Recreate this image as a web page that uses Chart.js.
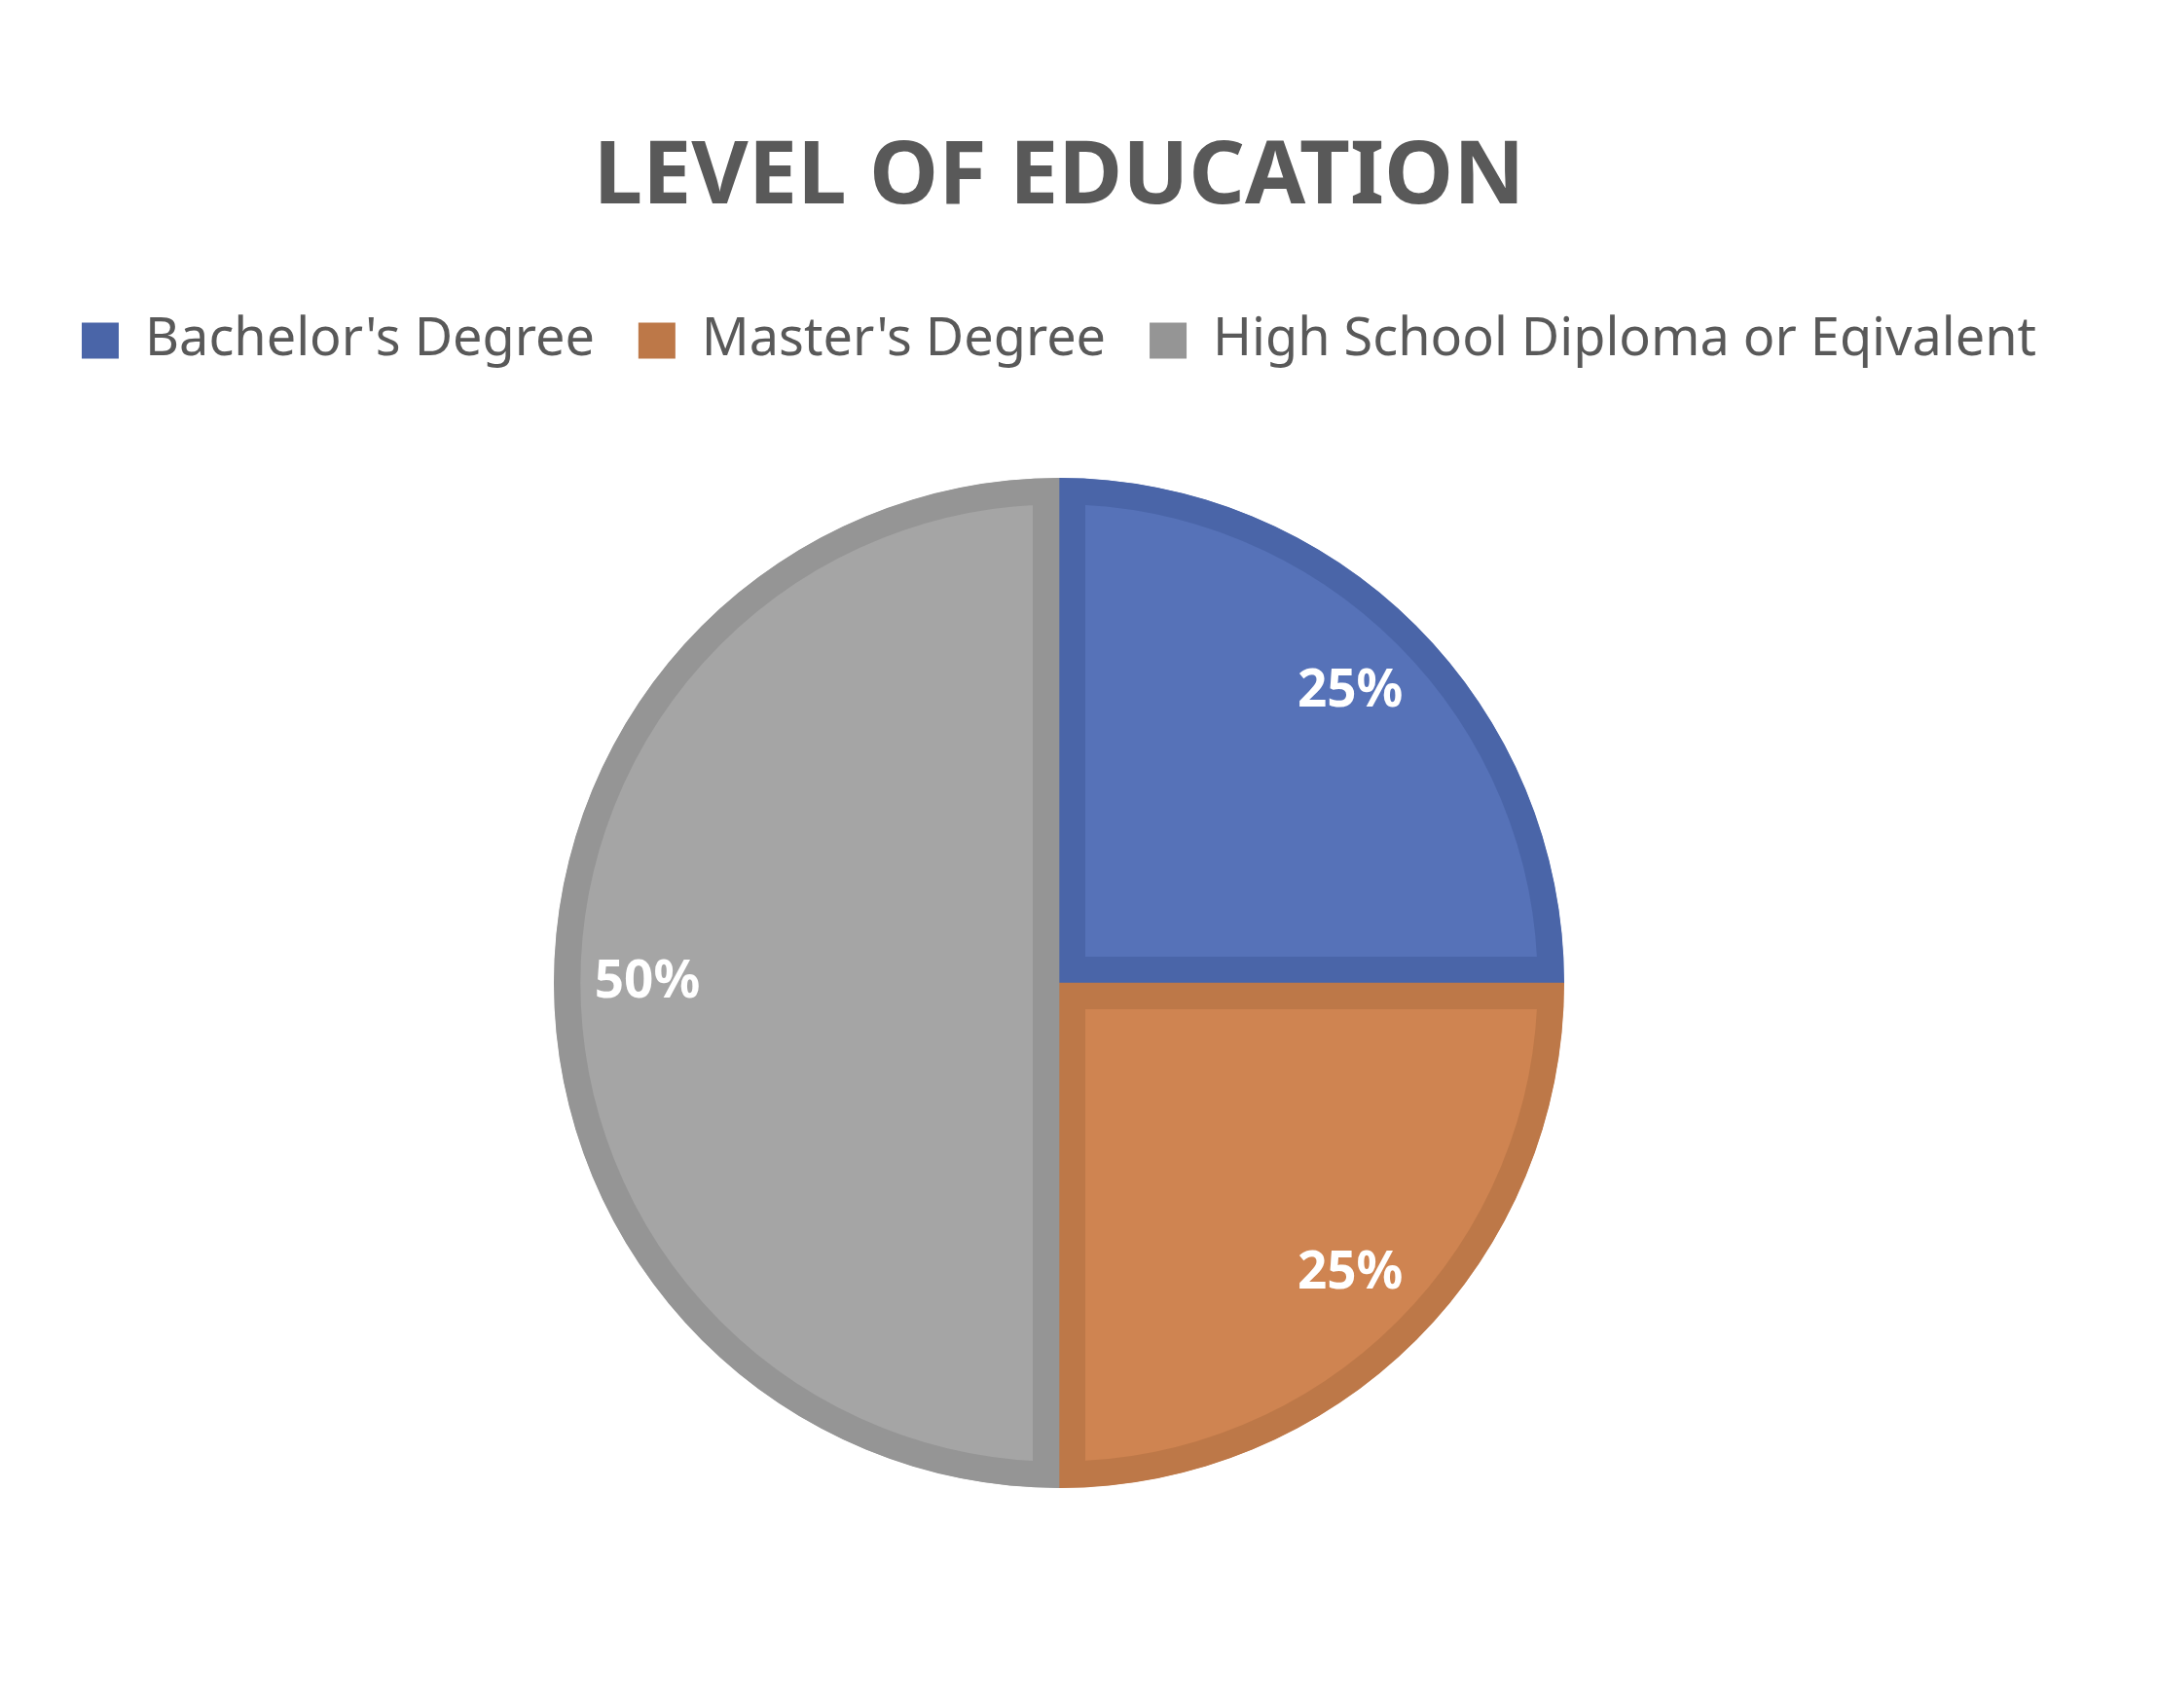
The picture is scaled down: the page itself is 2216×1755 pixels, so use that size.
<!DOCTYPE html>
<html>
<head>
<meta charset="utf-8">
<script src="https://cdn.jsdelivr.net/npm/chart.js@4.4.1/dist/chart.umd.min.js"></script>
<style>
  html, body { margin: 0; padding: 0; background: #ffffff; }
  #wrap { width: 2216px; height: 1755px; }
</style>
</head>
<body>
<div id="wrap"><canvas id="c" width="2216" height="1755"></canvas></div>
<script>
// ---- data ----
const titleText = "LEVEL OF EDUCATION";
const categories = ["Bachelor's Degree", "Master's Degree", "High School Diploma or Eqivalent"];
const values = [25, 25, 50];
const fillColors = ["#5672B8", "#CF8451", "#A5A5A5"];
const borderColors = ["#4A65A8", "#BD7848", "#959595"];

// ---- percentage labels drawn from arc elements ----
const pctLabels = {
  id: 'pctLabels',
  afterDatasetsDraw(chart) {
    const ctx = chart.ctx;
    const meta = chart.getDatasetMeta(0);
    const data = chart.data.datasets[0].data;
    const total = data.reduce((a, b) => a + b, 0);
    ctx.save();
    ctx.fillStyle = '#ffffff';
    ctx.font = 'bold 53px "Noto Sans"';
    ctx.textAlign = 'center';
    ctx.textBaseline = 'middle';
    meta.data.forEach((arc, i) => {
      const p = arc.getProps(['x', 'y', 'startAngle', 'endAngle', 'outerRadius'], true);
      const mid = (p.startAngle + p.endAngle) / 2;
      const r = p.outerRadius * 0.815;
      const txt = Math.round(data[i] / total * 100) + '%';
      ctx.fillText(txt, p.x + Math.cos(mid) * r, p.y + Math.sin(mid) * r);
    });
    ctx.restore();
  }
};

new Chart(document.getElementById('c'), {
  type: 'pie',
  data: {
    labels: categories,
    datasets: [{
      data: values,
      backgroundColor: fillColors,
      borderColor: borderColors,
      borderWidth: 27,
      borderAlign: 'inner',
      borderJoinStyle: 'miter',
      radius: 519
    }]
  },
  options: {
    responsive: false,
    animation: false,
    devicePixelRatio: 1,
    layout: { padding: { top: 60, bottom: 122, left: 0, right: 40 } },
    plugins: {
      title: {
        display: true,
        text: titleText,
        color: '#595959',
        font: { family: '"Noto Sans"', size: 90, weight: 'bold' },
        padding: { top: 69, bottom: 41 }
      },
      legend: {
        display: true,
        position: 'top',
        labels: {
          color: '#595959',
          font: { family: '"Noto Sans"', size: 54 },
          boxWidth: 38,
          boxHeight: 37,
          padding: 45,
          generateLabels(chart) {
            const ds = chart.data.datasets[0];
            return chart.data.labels.map((lbl, i) => ({
              text: lbl,
              fillStyle: ds.borderColor[i],
              strokeStyle: ds.borderColor[i],
              lineWidth: 0,
              fontColor: '#595959',
              hidden: false,
              index: i
            }));
          }
        }
      },
      tooltip: { enabled: false }
    }
  },
  plugins: [pctLabels]
});
</script>
</body>
</html>
